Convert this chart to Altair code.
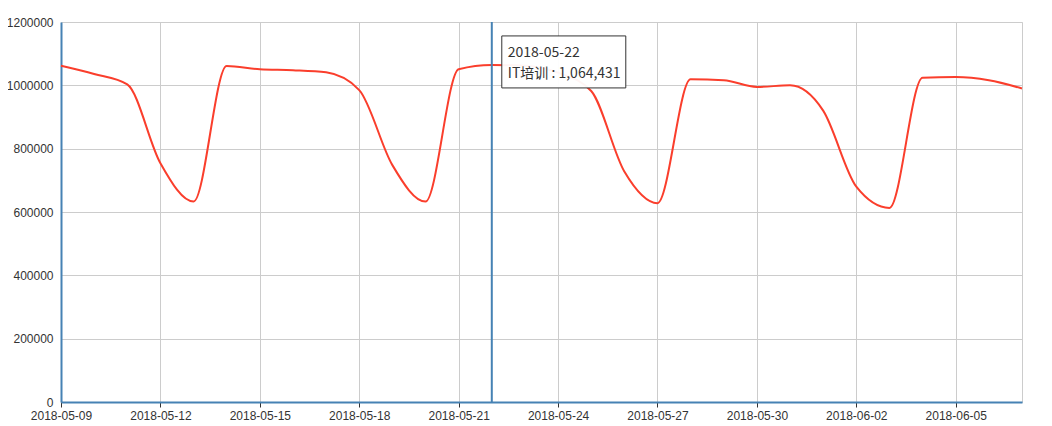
import altair as alt
import pandas as pd

dates = [
    "2018-05-09", "2018-05-10", "2018-05-11", "2018-05-12", "2018-05-13",
    "2018-05-14", "2018-05-15", "2018-05-16", "2018-05-17", "2018-05-18",
    "2018-05-19", "2018-05-20", "2018-05-21", "2018-05-22", "2018-05-23",
    "2018-05-24", "2018-05-25", "2018-05-26", "2018-05-27", "2018-05-28",
    "2018-05-29", "2018-05-30", "2018-05-31", "2018-06-01", "2018-06-02",
    "2018-06-03", "2018-06-04", "2018-06-05", "2018-06-06", "2018-06-07",
]
values = [
    1062000, 1036000, 1003000, 754000, 633000,
    1061000, 1051000, 1048000, 1041000, 985000,
    748000, 633000, 1051000, 1064431, 1062000,
    1040000, 982000, 728000, 628000, 1019000,
    1016000, 995000, 1000000, 920000, 680000,
    613000, 1024000, 1026000, 1016000, 990000,
]
series_name = "IT培训"
x_tick_dates = [
    "2018-05-09", "2018-05-12", "2018-05-15", "2018-05-18", "2018-05-21",
    "2018-05-24", "2018-05-27", "2018-05-30", "2018-06-02", "2018-06-05",
]
y_ticks = [0, 200000, 400000, 600000, 800000, 1000000, 1200000]
hover_date = "2018-05-22"

df = pd.DataFrame({"date": dates, "value": values})
hv = values[dates.index(hover_date)]
tip = pd.DataFrame({
    "date": [hover_date],
    "value": [hv],
    "line1": [hover_date],
    "line2": [f"{series_name} : {hv:,}"],
})

def dt(s):
    y, m, d = (int(p) for p in s.split("-"))
    return alt.DateTime(year=y, month=m, date=d, utc=True)

AXIS_BLUE = "#4682b4"
RED = "#fa3e2c"
FONT = "Liberation Sans"

x_enc = alt.X(
    "date:T",
    title=None,
    scale=alt.Scale(type="utc", domain=[dt(dates[0]), dt(dates[-1])], nice=False),
    axis=alt.Axis(
        values=[dt(s) for s in x_tick_dates],
        format="%Y-%m-%d",
        labelAngle=0,
        labelOverlap=False,
        labelFlush=False,
        labelFont=FONT,
        labelFontSize=12,
        labelColor="#333333",
        labelPadding=3,
        tickColor="#333333",
        tickSize=5,
        domainColor=AXIS_BLUE,
        domainWidth=2,
        gridColor="#cccccc",
        gridWidth=1,
    ),
)
y_enc = alt.Y(
    "value:Q",
    title=None,
    scale=alt.Scale(domain=[0, 1200000], nice=False),
    axis=alt.Axis(
        values=y_ticks,
        format="d",
        ticks=False,
        labelFont=FONT,
        labelFontSize=12,
        labelColor="#333333",
        labelPadding=8,
        domainColor=AXIS_BLUE,
        domainWidth=2,
        gridColor="#cccccc",
        gridWidth=1,
    ),
)

line = alt.Chart(df).mark_line(
    color=RED, strokeWidth=2, interpolate="monotone"
).encode(x=x_enc, y=y_enc)

rule = alt.Chart(tip).mark_rule(color=AXIS_BLUE, strokeWidth=2).encode(x="date:T")

box = alt.Chart(tip).mark_rect(
    fill="white", fillOpacity=0.95, stroke="#333333", strokeWidth=1,
    xOffset=10, x2Offset=134, yOffset=-29, y2Offset=23,
).encode(x="date:T", x2="date:T", y="value:Q", y2="value:Q")

text1 = alt.Chart(tip).mark_text(
    align="left", baseline="alphabetic", dx=16, dy=-8,
    font="Noto Sans CJK SC", fontSize=14, color="#333333",
).encode(x="date:T", y="value:Q", text="line1:N")

text2 = alt.Chart(tip).mark_text(
    align="left", baseline="alphabetic", dx=16, dy=13,
    font="Noto Sans CJK SC", fontSize=14, color="#333333",
).encode(x="date:T", y="value:Q", text="line2:N")

chart = alt.layer(line, rule, box, text1, text2).properties(
    width=961,
    height=380,
    autosize=alt.AutoSizeParams(type="none"),
    padding={"left": 53, "top": 14, "right": 20, "bottom": 22},
    background="white",
).configure_view(stroke="#cccccc", strokeWidth=1)

chart.save("out.html", embed_options={"renderer": "svg", "actions": False})
